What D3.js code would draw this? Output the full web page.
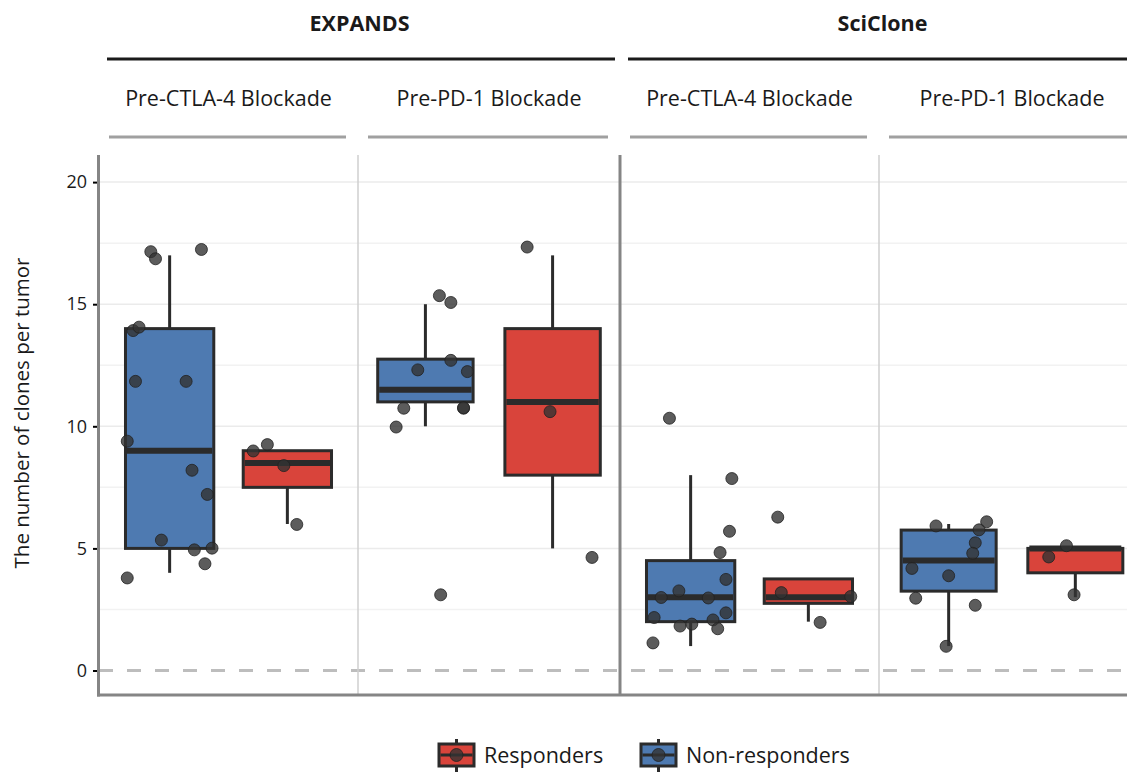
<!DOCTYPE html>
<html>
<head>
<meta charset="utf-8">
<script src="https://cdn.jsdelivr.net/npm/d3@7"></script>
<style>
    body { margin: 0; background: #fff; }
    text { font-family: "Open Sans", sans-serif; fill: #1a1a1a; }
    .grid line { stroke: #ebebeb; stroke-width: 1.5px; }
    .grid line.minor { stroke: #f2f2f2; }
    .box rect { stroke: #2b2b2b; stroke-width: 3px; }
    .box line { stroke: #2b2b2b; stroke-width: 3px; }
    .box line.median { stroke-width: 6px; }
    circle.pt { fill: #333; fill-opacity: .8; stroke: #222; stroke-opacity: .8; stroke-width: 1px; }
</style>
</head>
<body>
<script>

    // facets: method group on top, treatment in the strip
    var groups = ["EXPANDS", "SciClone"];
    var facetLabels = ["Pre-CTLA-4 Blockade", "Pre-PD-1 Blockade", "Pre-CTLA-4 Blockade", "Pre-PD-1 Blockade"];
    var facetGroup = [0, 0, 1, 1];
    var responses = ["Non-responders", "Responders"];
    var legendOrder = ["Responders", "Non-responders"];
    var yTicks = [0, 5, 10, 15, 20];
    var yMinor = [2.5, 7.5, 12.5, 17.5];

    // box stats per facet: [lower whisker, q1, median, q3, upper whisker]
    var nonRespBox = [[4, 5, 9, 14, 17], [10, 11, 11.5, 12.75, 15], [1, 2, 3, 4.5, 8], [1, 3.25, 4.5, 5.75, 6]];
    var respBox = [[6, 7.5, 8.5, 9, 9], [5, 8, 11, 14, 17], [2, 2.75, 3, 3.75, 3.75], [3, 4, 5, 5, 5]];

    // jittered points per facet: [clones, x jitter]
    var nonRespPts = [
        [[17.15, -0.16], [16.86, -0.12], [17.24, 0.27], [13.92, -0.31], [14.06, -0.26], [11.84, -0.29], [11.84, 0.14],
         [9.39, -0.36], [8.20, 0.19], [7.21, 0.32], [5.34, -0.07], [4.94, 0.21], [5.01, 0.36], [4.37, 0.30], [3.79, -0.36]],
        [[15.35, 0.11], [15.07, 0.20], [12.70, 0.20], [12.31, -0.06], [12.24, 0.33], [10.74, -0.17], [10.74, 0.30],
         [10.76, 0.30], [9.97, -0.23], [3.10, 0.12]],
        [[10.33, -0.18], [7.86, 0.35], [5.70, 0.33], [4.83, 0.25], [3.73, 0.30], [3.26, -0.10], [2.99, -0.25], [2.97, 0.15],
         [2.17, -0.31], [2.36, 0.30], [2.07, 0.19], [1.82, -0.09], [1.90, 0.01], [1.71, 0.23], [1.13, -0.32]],
        [[5.92, -0.10], [6.09, 0.30], [5.76, 0.24], [5.23, 0.21], [4.80, 0.19], [4.18, -0.29], [3.88, 0.00],
         [2.96, -0.26], [2.67, 0.21], [0.99, -0.02]]
    ];
    var respPts = [
        [[8.99, -0.29], [9.25, -0.17], [8.39, -0.03], [5.98, 0.08]],
        [[17.34, -0.20], [10.60, -0.02], [4.63, 0.31]],
        [[6.28, -0.26], [3.19, -0.23], [3.03, 0.36], [1.97, 0.10]],
        [[5.11, -0.07], [4.65, -0.21], [3.10, -0.01]]
    ];

    var colors = {"Non-responders": "#4e7ab1", "Responders": "#d9443b"};

    var width = 1127, height = 772;
    var panelX = [[99, 358], [358, 620], [620, 879], [879, 1145]];
    var panelPad = [0.6, 0.53, 0.6, 0.55];
    var panelTop = 155, panelBottom = 695;

    var svg = d3.select("body").append("svg")
        .attr("width", width)
        .attr("height", height);

    var y = d3.scaleLinear().domain([0, 20]).range([670.5, 182.1]);

    var xs = panelX.map(function (p, i) {
        return d3.scaleLinear().domain([1 - panelPad[i], 2 + panelPad[i]]).range(p);
    });

    // grid
    var grid = svg.append("g").attr("class", "grid");
    panelX.forEach(function (p) {
        grid.selectAll(null).data(yMinor).enter().append("line")
            .attr("class", "minor")
            .attr("x1", p[0]).attr("x2", p[1])
            .attr("y1", y).attr("y2", y);
        grid.selectAll(null).data(yTicks.slice(1)).enter().append("line")
            .attr("x1", p[0]).attr("x2", p[1])
            .attr("y1", y).attr("y2", y);
    });
    svg.append("line")
        .attr("x1", panelX[0][0]).attr("x2", width)
        .attr("y1", y(0)).attr("y2", y(0))
        .style("stroke", "#bdbdbd").style("stroke-width", 3).style("stroke-dasharray", "14,14");

    function drawBox(g, x, cat, s) {
        var bw = x(1.75) - x(1);
        var cx = x(cat);
        g.append("line").attr("x1", cx).attr("x2", cx).attr("y1", y(s[3])).attr("y2", y(s[4]));
        g.append("line").attr("x1", cx).attr("x2", cx).attr("y1", y(s[0])).attr("y2", y(s[1]));
        g.append("rect")
            .attr("x", cx - bw / 2).attr("width", bw)
            .attr("y", y(s[3])).attr("height", y(s[1]) - y(s[3]))
            .style("fill", colors[responses[cat - 1]]);
        g.append("line").attr("class", "median")
            .attr("x1", cx - bw / 2 + 1.5).attr("x2", cx + bw / 2 - 1.5)
            .attr("y1", y(s[2])).attr("y2", y(s[2]));
    }

    facetLabels.forEach(function (lab, i) {
        var x = xs[i];
        var g = svg.append("g").attr("class", "box");
        drawBox(g, x, 1, nonRespBox[i]);
        drawBox(g, x, 2, respBox[i]);

        svg.append("g").selectAll("circle")
            .data(nonRespPts[i].map(function (d) { return [1, d]; })
                .concat(respPts[i].map(function (d) { return [2, d]; })))
            .enter().append("circle")
            .attr("class", "pt")
            .attr("r", 6)
            .attr("cx", function (d) { return x(d[0] + d[1][1]); })
            .attr("cy", function (d) { return y(d[1][0]); });

        // strip
        var p = panelX[i];
        svg.append("text")
            .attr("x", (p[0] + p[1]) / 2).attr("y", 106)
            .attr("text-anchor", "middle")
            .style("font-size", "21.5px")
            .text(lab);
        svg.append("line")
            .attr("x1", p[0] + 10).attr("x2", p[1] - 12)
            .attr("y1", 137).attr("y2", 137)
            .style("stroke", "#a0a0a0").style("stroke-width", 3);
    });

    // group headers
    groups.forEach(function (gname, gi) {
        var idx = facetGroup.map(function (g, i) { return g === gi ? i : -1; }).filter(function (i) { return i >= 0; });
        var x0 = panelX[idx[0]][0], x1 = panelX[idx[idx.length - 1]][1];
        svg.append("text")
            .attr("x", (x0 + x1) / 2).attr("y", 31)
            .attr("text-anchor", "middle")
            .style("font-size", "21.5px").style("font-weight", "bold")
            .text(gname);
        svg.append("line")
            .attr("x1", x0 + 8).attr("x2", x1 - 5)
            .attr("y1", 59).attr("y2", 59)
            .style("stroke", "#1a1a1a").style("stroke-width", 3);
    });

    // panel separators
    [1, 2, 3].forEach(function (i) {
        var between = facetGroup[i] !== facetGroup[i - 1];
        svg.append("line")
            .attr("x1", panelX[i][0]).attr("x2", panelX[i][0])
            .attr("y1", panelTop).attr("y2", panelBottom)
            .style("stroke", between ? "#858585" : "#cfcfcf")
            .style("stroke-width", between ? 3 : 1.5);
    });

    // axes
    svg.append("line")
        .attr("x1", 98.5).attr("x2", 98.5).attr("y1", panelTop).attr("y2", panelBottom + 1.5)
        .style("stroke", "#858585").style("stroke-width", 3);
    svg.append("line")
        .attr("x1", 97).attr("x2", width).attr("y1", panelBottom).attr("y2", panelBottom)
        .style("stroke", "#858585").style("stroke-width", 3);

    var yAxis = svg.append("g")
        .attr("transform", "translate(97,0)")
        .call(d3.axisLeft(y).tickValues(yTicks).tickSize(4).tickPadding(6));
    yAxis.select(".domain").remove();
    yAxis.selectAll(".tick line").style("stroke", "#000").style("stroke-width", 2);
    yAxis.selectAll(".tick text")
        .style("font-family", "Open Sans").style("font-size", "18px").style("fill", "#1a1a1a");

    svg.append("text")
        .attr("transform", "translate(29,413) rotate(-90)")
        .attr("text-anchor", "middle")
        .style("font-size", "20.5px")
        .text("The number of clones per tumor");

    // legend
    var legX = [439, 641];
    legendOrder.forEach(function (name, i) {
        var g = svg.append("g").attr("transform", "translate(" + legX[i] + ",744)");
        g.append("line").attr("x1", 17.5).attr("x2", 17.5).attr("y1", -5).attr("y2", 28)
            .style("stroke", "#2b2b2b").style("stroke-width", 3);
        g.append("rect").attr("width", 35).attr("height", 22)
            .style("fill", colors[name]).style("stroke", "#2b2b2b").style("stroke-width", 3);
        g.append("line").attr("x1", 1.5).attr("x2", 33.5).attr("y1", 11).attr("y2", 11)
            .style("stroke", "#2b2b2b").style("stroke-width", 3);
        g.append("circle").attr("class", "pt").attr("cx", 17.5).attr("cy", 11).attr("r", 6.5);
        g.append("text").attr("x", 45).attr("y", 19)
            .style("font-size", "21.5px")
            .text(name);
    });

</script>
</body>
</html>
